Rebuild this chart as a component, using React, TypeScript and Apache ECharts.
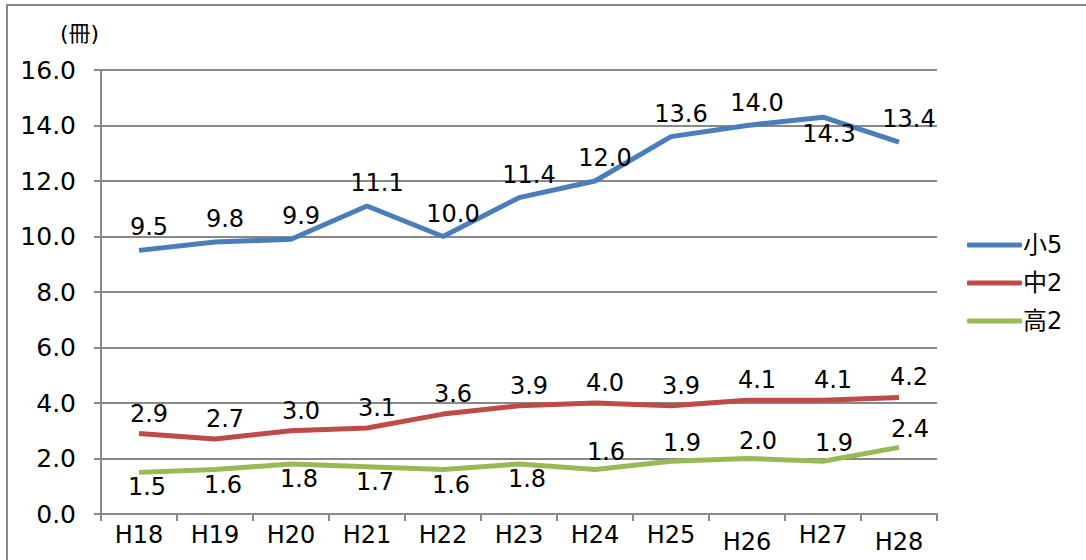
import React, { useEffect, useRef } from "react";
import * as echarts from "echarts";

const categories = ["H18", "H19", "H20", "H21", "H22", "H23", "H24", "H25", "H26", "H27", "H28"];
const shou5 = [9.5, 9.8, 9.9, 11.1, 10.0, 11.4, 12.0, 13.6, 14.0, 14.3, 13.4];
const chu2 = [2.9, 2.7, 3.0, 3.1, 3.6, 3.9, 4.0, 3.9, 4.1, 4.1, 4.2];
const kou2 = [1.5, 1.6, 1.8, 1.7, 1.6, 1.8, 1.6, 1.9, 2.0, 1.9, 2.4];
const shou5Below = [9];
const kou2Below = [0, 1, 2, 3, 4, 5];
const lowLabels = [8, 10];

const FONT = "'DejaVu Sans', 'Noto Sans CJK JP', sans-serif";

export default function App() {
  const ref = useRef<HTMLDivElement>(null);
  useEffect(() => {
    const chart = echarts.init(ref.current!, null, { renderer: "svg" });
    const mk = (vals: number[], below: number[], upOffset: number[], downOffset: number[]) =>
      vals.map((v, i) => ({
        value: v,
        label: below.includes(i) ? { position: "bottom", offset: downOffset } : { position: "top", offset: upOffset },
      }));
    const lbl = { show: true, color: "#000", fontSize: 24, fontFamily: FONT, distance: 6, formatter: (p: any) => Number(p.value).toFixed(1) };
    chart.setOption({
      animation: false,
      backgroundColor: "#fff",
      textStyle: { fontFamily: FONT },
      grid: { left: 101, right: 149, top: 70, bottom: 46 },
      graphic: [
        { type: "line", shape: { x1: 6, y1: 5, x2: 1086, y2: 5 }, style: { stroke: "#888", lineWidth: 2 } },
        { type: "line", shape: { x1: 7, y1: 5, x2: 7, y2: 560 }, style: { stroke: "#888", lineWidth: 2 } },
        { type: "text", left: 60, top: 22, style: { text: "(冊)", fontSize: 22, fontFamily: FONT, fill: "#000" } },
      ],
      legend: {
        orient: "vertical",
        left: 962,
        top: 228,
        itemWidth: 55,
        itemHeight: 5,
        itemGap: 14,
        icon: "roundRect",
        textStyle: { fontSize: 24, fontFamily: FONT, color: "#000", padding: [0, 0, 0, -4] },
        data: ["小5", "中2", "高2"],
      },
      xAxis: {
        type: "category",
        data: categories,
        boundaryGap: true,
        axisLine: { lineStyle: { color: "#888", width: 2 } },
        axisTick: { show: true, length: 7, lineStyle: { color: "#888", width: 2 } },
        axisLabel: {
          color: "#000",
          fontSize: 24,
          fontFamily: FONT,
          margin: 9,
          interval: 0,
          formatter: (v: string, i: number) => (lowLabels.includes(i) ? `{low|${v}}` : v),
          rich: { low: { fontSize: 24, fontFamily: FONT, color: "#000", padding: [7, 0, 0, 0] } },
        },
      },
      yAxis: {
        type: "value",
        min: 0,
        max: 16,
        interval: 2,
        axisLine: { show: true, lineStyle: { color: "#888", width: 2 } },
        axisTick: { show: true, length: 7, lineStyle: { color: "#888", width: 2 } },
        splitLine: { lineStyle: { color: "#888", width: 2 } },
        axisLabel: { color: "#000", fontSize: 25, fontFamily: FONT, margin: 25, formatter: (v: number) => v.toFixed(1) },
      },
      series: [
        { name: "小5", type: "line", data: mk(shou5, shou5Below, [10, -5], [6, -1]), symbol: "circle", symbolSize: 0, lineStyle: { width: 5, color: "#4a7ebb" }, itemStyle: { color: "#4a7ebb" }, label: lbl },
        { name: "中2", type: "line", data: mk(chu2, [], [10, -2], [10, 0]), symbol: "circle", symbolSize: 0, lineStyle: { width: 5, color: "#be4b48" }, itemStyle: { color: "#be4b48" }, label: lbl },
        { name: "高2", type: "line", data: mk(kou2, kou2Below, [11, 0], [8, -3]), symbol: "circle", symbolSize: 0, lineStyle: { width: 5, color: "#98b954" }, itemStyle: { color: "#98b954" }, label: lbl },
      ],
    });
    return () => chart.dispose();
  }, []);
  return <div ref={ref} style={{ position: "fixed", left: 0, top: 0, width: 1086, height: 560 }} />;
}
